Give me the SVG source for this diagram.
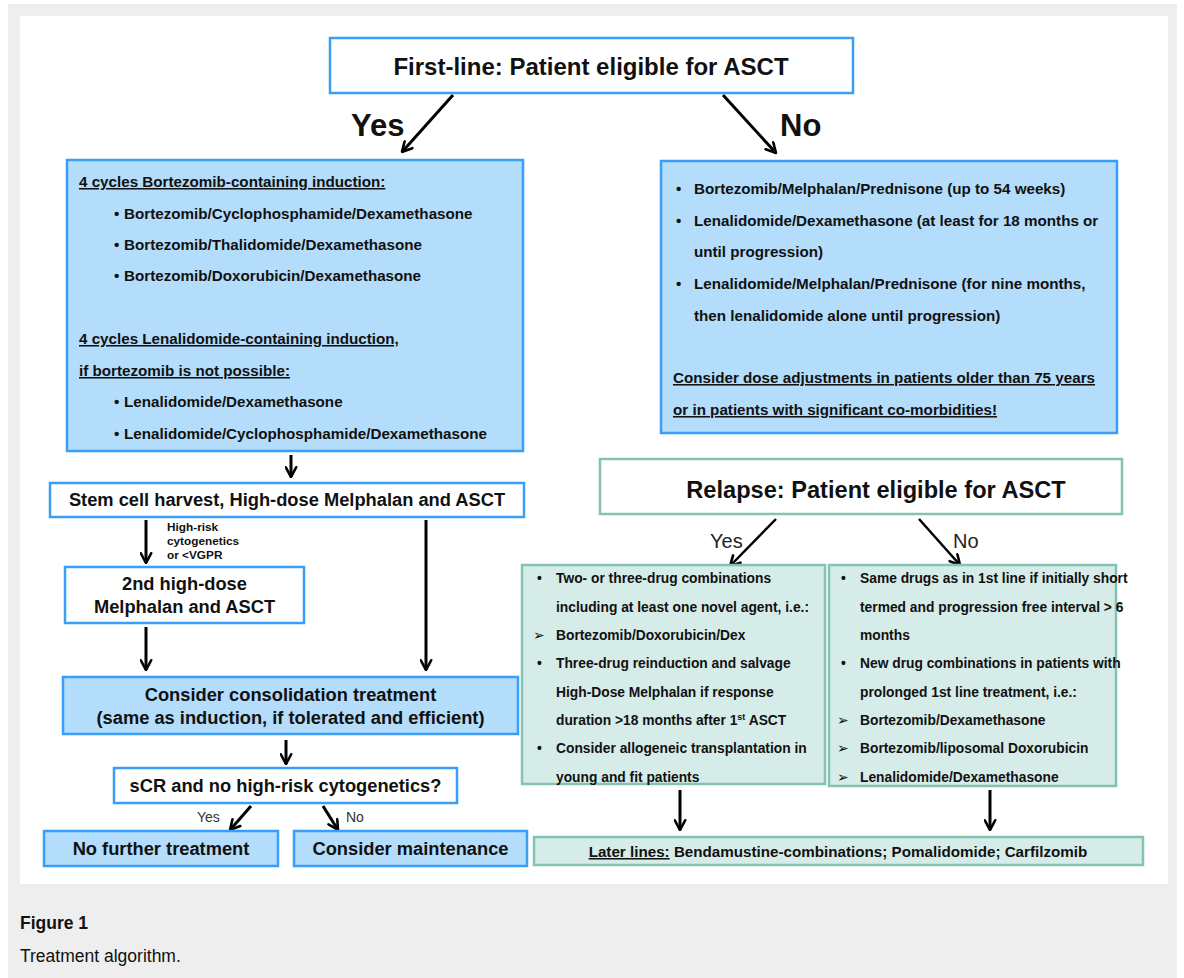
<svg xmlns="http://www.w3.org/2000/svg" width="1184" height="978" viewBox="0 0 1184 978">
<style>
.t{font-family:"Liberation Sans",Arial,sans-serif;fill:#111;}
.b{font-weight:bold;}
.blue{fill:#b4dcfb;stroke:#3a9ef6;stroke-width:2.5;}
.wb{fill:#ffffff;stroke:#3a9ef6;stroke-width:2.5;}
.green{fill:#d6ece8;stroke:#84c3b4;stroke-width:2.5;}
.wg{fill:#ffffff;stroke:#84c3b4;stroke-width:2.5;}
.f15{font-size:15.2px;}
.f14{font-size:13.8px;}
.f18{font-size:18.3px;}
.u{text-decoration:underline;}
.ar{font-family:"DejaVu Sans",sans-serif;font-weight:normal;font-size:14px;fill:#111;}
.arr{stroke:#000;stroke-width:3;fill:none;marker-end:url(#ah);}
.arr2{stroke:#000;stroke-width:2.5;fill:none;marker-end:url(#ah);}
</style>
<defs>
<marker id="ah" viewBox="0 0 10 10" refX="9" refY="5" markerWidth="13" markerHeight="13" markerUnits="userSpaceOnUse" orient="auto">
<path d="M1.5,1 L9,5 L1.5,9" fill="none" stroke="#000" stroke-width="2" stroke-linecap="round" stroke-linejoin="miter"/>
</marker>
</defs>
<rect x="8" y="4" width="1169" height="974" fill="#eeeeee"/>
<rect x="20" y="16" width="1148" height="868" fill="#ffffff"/>

<g id="connectors">
<line class="arr" x1="453" y1="95" x2="402" y2="152"/>
<line class="arr" x1="723" y1="95" x2="776" y2="153"/>
<line class="arr" x1="291" y1="455" x2="291" y2="477"/>
<line class="arr" x1="146" y1="520" x2="146" y2="563"/>
<line class="arr" x1="426" y1="520" x2="426" y2="670"/>
<line class="arr" x1="146" y1="627" x2="146" y2="670"/>
<line class="arr" x1="286" y1="740" x2="286" y2="764"/>
<line class="arr" x1="251" y1="806" x2="230" y2="830"/>
<line class="arr" x1="323" y1="806" x2="338" y2="830"/>
<line class="arr2" x1="776" y1="519" x2="730" y2="566"/>
<line class="arr2" x1="919" y1="519" x2="960" y2="565"/>
<line class="arr" x1="680" y1="790" x2="680" y2="830"/>
<line class="arr" x1="990" y1="790" x2="990" y2="830"/>
<text class="t b" x="351" y="136" style="font-size:31px">Yes</text>
<text class="t b" x="780" y="136" style="font-size:31px">No</text>
<text class="t b" x="167" y="531" style="font-size:11.8px">High-risk</text>
<text class="t b" x="167" y="545" style="font-size:11.8px">cytogenetics</text>
<text class="t b" x="167" y="559" style="font-size:11.8px">or &lt;VGPR</text>
<text class="t" x="197" y="822" style="font-size:14px;fill:#333">Yes</text>
<text class="t" x="346" y="822" style="font-size:14px;fill:#333">No</text>
<text class="t" x="710" y="548" style="font-size:20px;fill:#222">Yes</text>
<text class="t" x="953" y="548" style="font-size:20px;fill:#222">No</text>
</g>

<g id="n-firstline">
<rect class="wb" x="330" y="38" width="523" height="55"/>
<text class="t b" x="591" y="75" text-anchor="middle" style="font-size:24px">First-line: Patient eligible for ASCT</text>
</g>

<g id="n-induction">
<rect class="blue" x="67" y="160" width="456" height="291"/>
<g class="t b f15">
<text class="u" x="79" y="187">4 cycles Bortezomib-containing induction:</text>
<text x="114" y="219">•</text><text x="124" y="219">Bortezomib/Cyclophosphamide/Dexamethasone</text>
<text x="114" y="250">•</text><text x="124" y="250">Bortezomib/Thalidomide/Dexamethasone</text>
<text x="114" y="281">•</text><text x="124" y="281">Bortezomib/Doxorubicin/Dexamethasone</text>
<text class="u" x="79" y="344">4 cycles Lenalidomide-containing induction,</text>
<text class="u" x="79" y="376">if bortezomib is not possible:</text>
<text x="114" y="407">•</text><text x="124" y="407">Lenalidomide/Dexamethasone</text>
<text x="114" y="439">•</text><text x="124" y="439">Lenalidomide/Cyclophosphamide/Dexamethasone</text>
</g>
</g>

<g id="n-noasct">
<rect class="blue" x="661" y="161" width="456" height="272"/>
<g class="t b f15">
<text x="676" y="194">•</text><text x="694" y="194">Bortezomib/Melphalan/Prednisone (up to 54 weeks)</text>
<text x="676" y="226">•</text><text x="694" y="226">Lenalidomide/Dexamethasone (at least for 18 months or</text>
<text x="694" y="257">until progression)</text>
<text x="676" y="289">•</text><text x="694" y="289">Lenalidomide/Melphalan/Prednisone (for nine months,</text>
<text x="694" y="321">then lenalidomide alone until progression)</text>
<text class="u" x="673" y="383">Consider dose adjustments in patients older than 75 years</text>
<text class="u" x="673" y="415">or in patients with significant co-morbidities!</text>
</g>
</g>

<g id="n-stemcell">
<rect class="wb" x="50" y="483" width="474" height="34"/>
<text class="t b f18" x="287" y="506" text-anchor="middle">Stem cell harvest, High-dose Melphalan and ASCT</text>
</g>

<g id="n-second">
<rect class="wb" x="65" y="567" width="239" height="56"/>
<text class="t b f18" x="184.5" y="590" text-anchor="middle">2nd high-dose</text>
<text class="t b f18" x="184.5" y="613" text-anchor="middle">Melphalan and ASCT</text>
</g>

<g id="n-consolidation">
<rect class="blue" x="63" y="677" width="455" height="57"/>
<text class="t b f18" x="290.5" y="701" text-anchor="middle">Consider consolidation treatment</text>
<text class="t b f18" x="290.5" y="724" text-anchor="middle">(same as induction, if tolerated and efficient)</text>
</g>

<g id="n-scr">
<rect class="wb" x="114" y="768" width="343" height="35"/>
<text class="t b f18" x="285.5" y="792" text-anchor="middle">sCR and no high-risk cytogenetics?</text>
</g>

<g id="n-nofurther">
<rect class="blue" x="44" y="831" width="234" height="35"/>
<text class="t b f18" x="161" y="855" text-anchor="middle">No further treatment</text>
</g>

<g id="n-maintenance">
<rect class="blue" x="294" y="831" width="233" height="35"/>
<text class="t b f18" x="410.5" y="855" text-anchor="middle">Consider maintenance</text>
</g>

<g id="n-relapse">
<rect class="wg" x="600" y="459" width="522" height="55"/>
<text class="t b" x="876" y="498" text-anchor="middle" style="font-size:23.6px">Relapse: Patient eligible for ASCT</text>
</g>

<g id="n-relapse-yes">
<rect class="green" x="522" y="565" width="303" height="219"/>
<g class="t b f14">
<text x="537" y="583">•</text><text x="556" y="583">Two- or three-drug combinations</text>
<text x="556" y="612">including at least one novel agent, i.e.:</text>
<text class="ar" x="533" y="640">➢</text><text x="556" y="640">Bortezomib/Doxorubicin/Dex</text>
<text x="537" y="668">•</text><text x="556" y="668">Three-drug reinduction and salvage</text>
<text x="556" y="697">High-Dose Melphalan if response</text>
<text x="556" y="725">duration &gt;18 months after 1<tspan style="font-size:9px" dy="-5">st</tspan><tspan dy="5"> ASCT</tspan></text>
<text x="537" y="753">•</text><text x="556" y="753">Consider allogeneic transplantation in</text>
<text x="556" y="782">young and fit patients</text>
</g>
</g>

<g id="n-relapse-no">
<rect class="green" x="829" y="565" width="287" height="221"/>
<g class="t b f14">
<text x="841" y="583">•</text><text x="860" y="583">Same drugs as in 1st line if initially short</text>
<text x="860" y="612">termed and progression free interval &gt; 6</text>
<text x="860" y="640">months</text>
<text x="841" y="668">•</text><text x="860" y="668">New drug combinations in patients with</text>
<text x="860" y="697">prolonged 1st line treatment, i.e.:</text>
<text class="ar" x="837" y="725">➢</text><text x="860" y="725">Bortezomib/Dexamethasone</text>
<text class="ar" x="837" y="753">➢</text><text x="860" y="753">Bortezomib/liposomal Doxorubicin</text>
<text class="ar" x="837" y="782">➢</text><text x="860" y="782">Lenalidomide/Dexamethasone</text>
</g>
</g>

<g id="n-laterlines">
<rect class="green" x="534" y="837" width="609" height="28"/>
<text class="t b f15" x="838" y="857" text-anchor="middle"><tspan class="u">Later lines:</tspan> Bendamustine-combinations; Pomalidomide; Carfilzomib</text>
</g>

<g id="caption">
<text class="t b" x="20" y="929" style="font-size:17.5px">Figure 1</text>
<text class="t" x="20" y="962" style="font-size:17.5px">Treatment algorithm.</text>
</g>
</svg>
